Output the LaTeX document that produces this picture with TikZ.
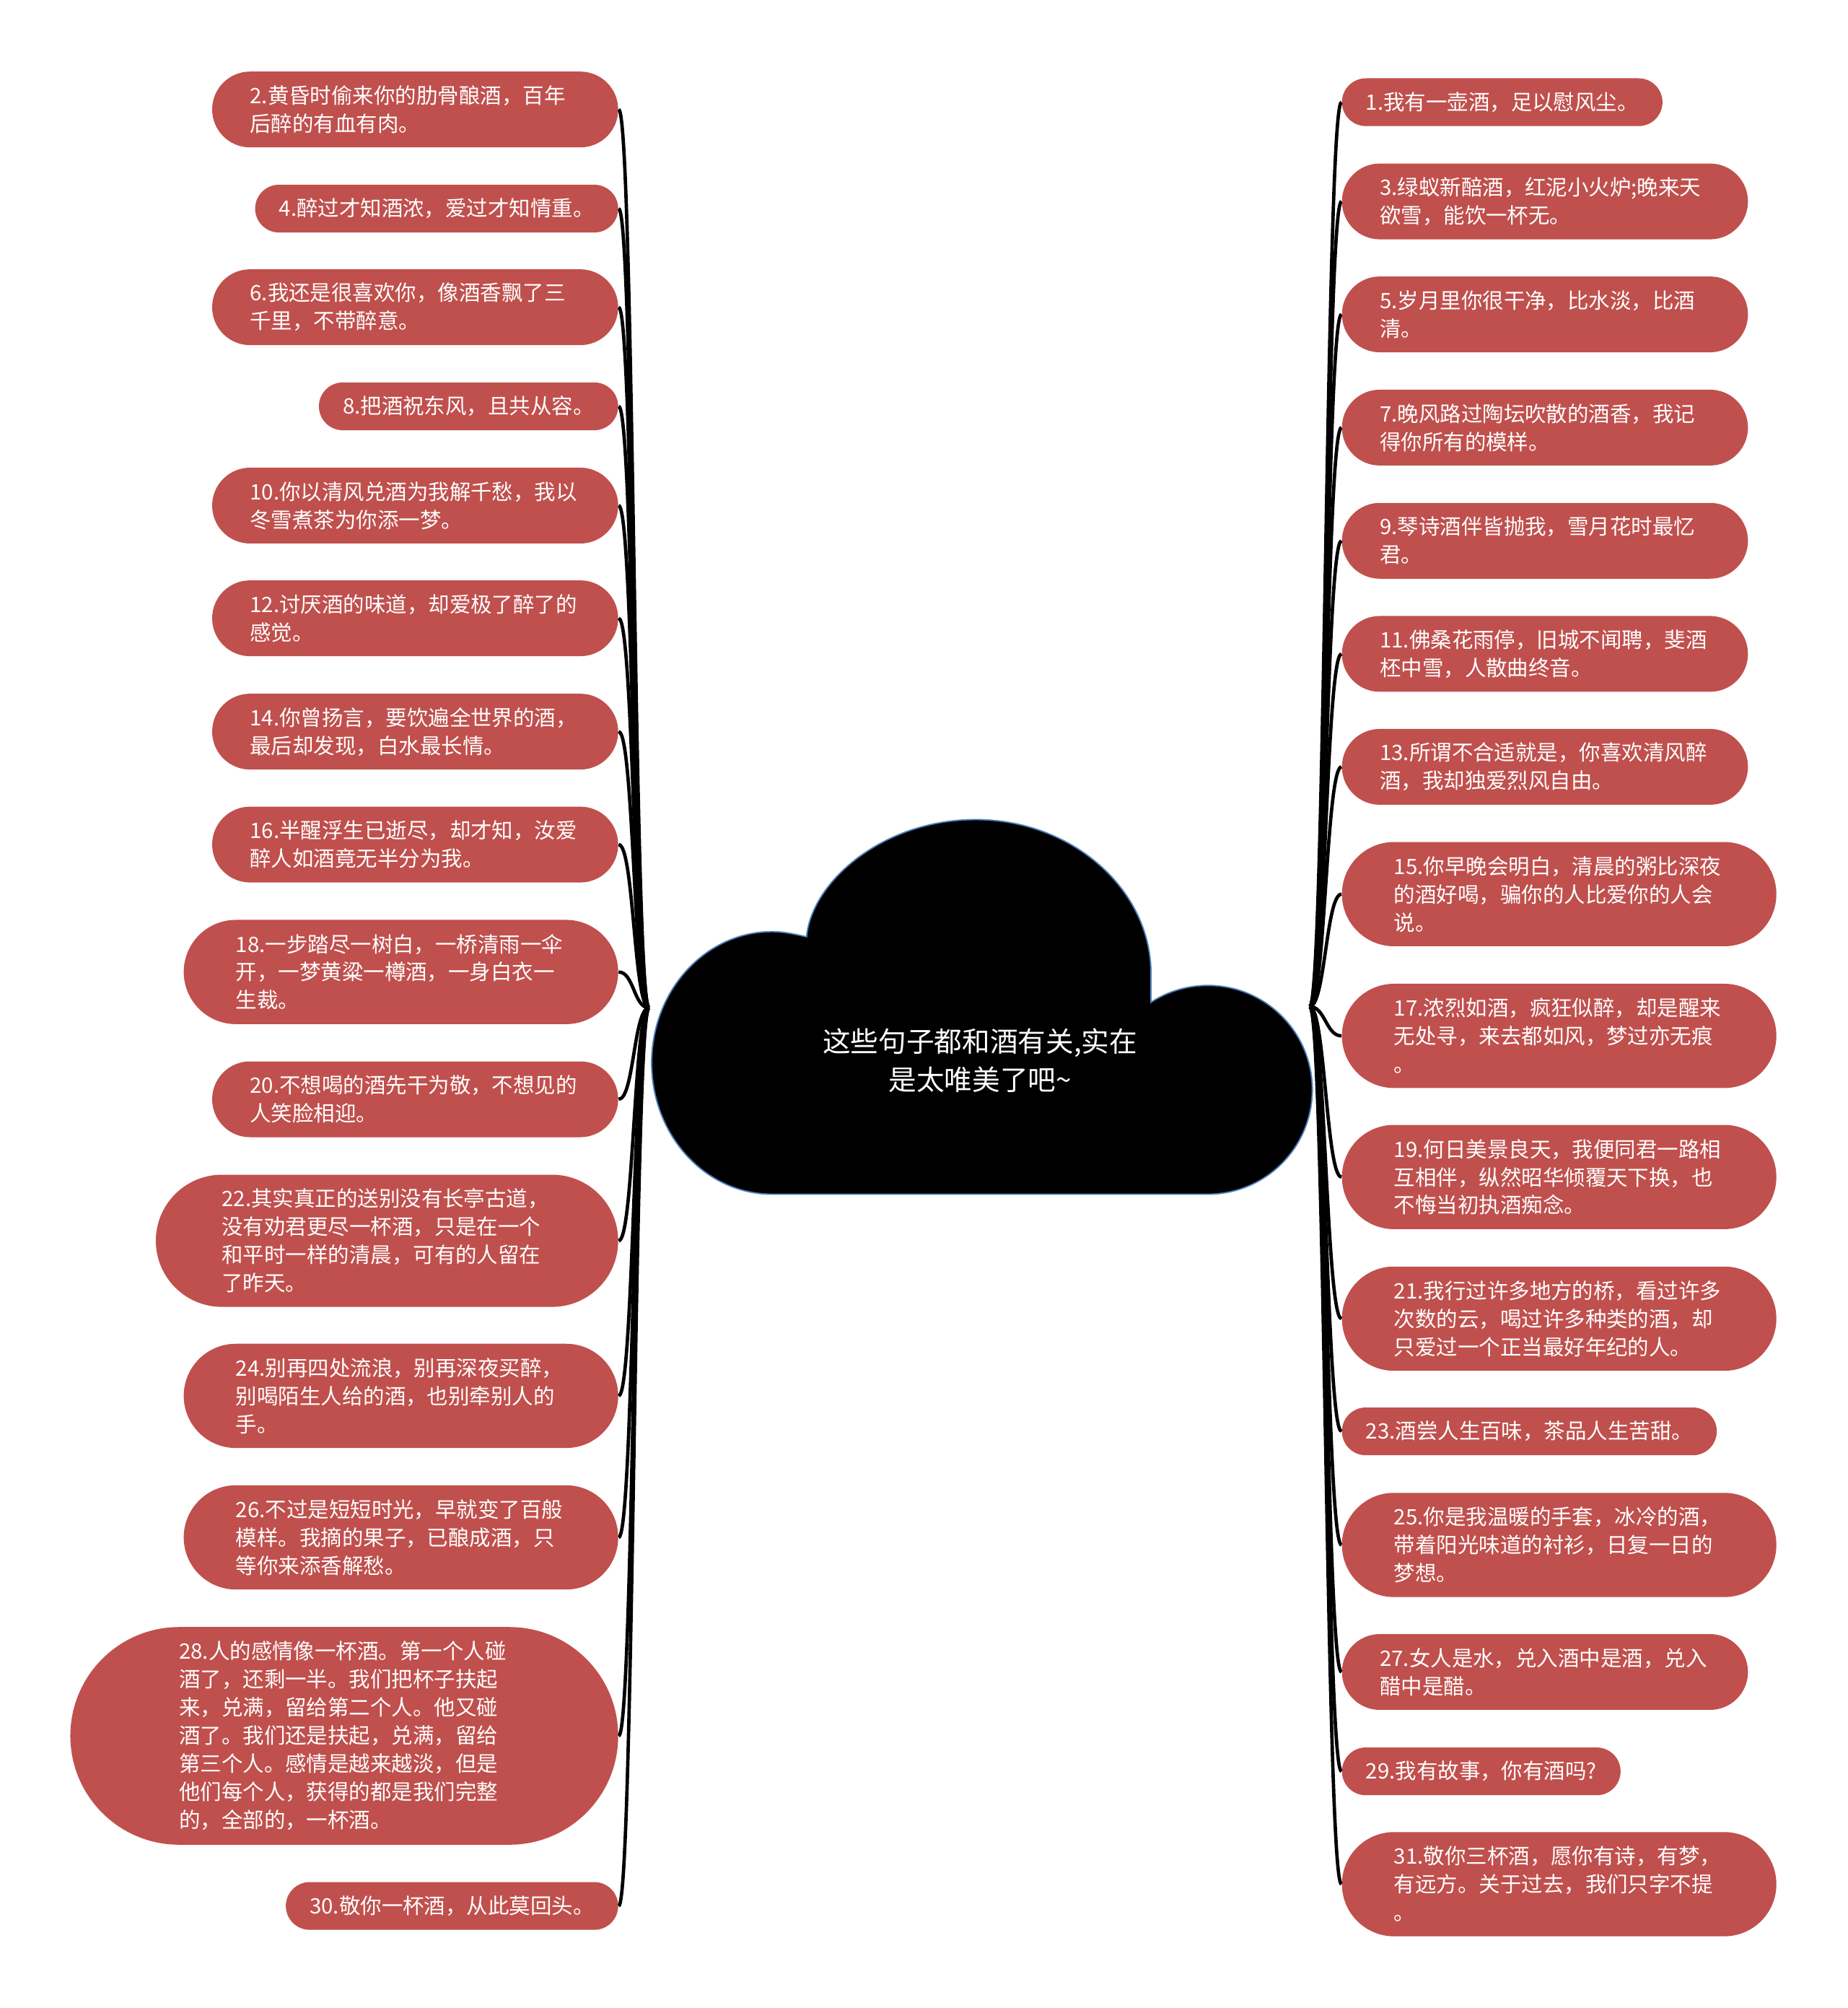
\documentclass[tikz,border=0pt]{standalone}
\usepackage{fontspec}
\newfontfamily\cjk{Noto Sans CJK SC}

\definecolor{quotered}{RGB}{192,80,77}
\definecolor{cloudline}{RGB}{79,129,189}

\begin{document}
\begin{tikzpicture}[x=0.02cm, y=-0.02cm,
        quote/.style={fill=quotered, text=white, align=left, inner ysep=0pt,
            font=\cjk\fontsize{9.45}{12.5}\selectfont},
        box1/.style={quote, minimum height=0.746cm, inner xsep=0.373cm, rounded corners=0.373cm},
        box2/.style={quote, text width=5.16cm, minimum height=1.184cm, inner xsep=0.592cm, rounded corners=0.592cm},
        box3/.style={quote, text width=5.16cm, minimum height=1.628cm, inner xsep=0.814cm, rounded corners=0.814cm},
        box4/.style={quote, text width=5.16cm, minimum height=2.064cm, inner xsep=1.032cm, rounded corners=1.032cm},
        box7/.style={quote, text width=5.16cm, minimum height=3.40cm, inner xsep=1.70cm, rounded corners=1.70cm},
        link/.style={line width=1.5pt}]

        \useasboundingbox (0,0) rectangle (1443,1568);

        % Centre: cloud
        \draw[fill=black, draw=cloudline, line width=0.6pt]
            (603,932.5) .. controls (551,932.5) and (509,886.6) .. (509,830)
            .. controls (509,773.4) and (551,727.5) .. (603,727.5)
            .. controls (612,727.5) and (621,729.5) .. (630,731.5)
            .. controls (634,688) and (690,640) .. (762,640)
            .. controls (838,640) and (899,695) .. (899,760)
            -- (899,782.6)
            .. controls (912.4,774) and (927.7,769.5) .. (943.5,769.5)
            .. controls (988.5,769.5) and (1025,806) .. (1025,851)
            .. controls (1025,896) and (988.5,932.5) .. (943.5,932.5)
            -- cycle;

        \node[text=white, align=center, font=\cjk\fontsize{12.4}{17.1}\selectfont] (root) at (765.5,828)
            {这些句子都和酒有关,实在\\是太唯美了吧\textasciitilde};

        \coordinate (jl) at (507,787);
        \coordinate (jr) at (1023,786);

        % Left: even quotes
        \node[box2, anchor=east] (q2) at (483.2,85.5) {2.黄昏时偷来你的肋骨酿酒，百年\\后醉的有血有肉。};
        \node[box1, anchor=east] (q4) at (483.2,162.9) {4.醉过才知酒浓，爱过才知情重。};
        \node[box2, anchor=east] (q6) at (483.2,239.9) {6.我还是很喜欢你，像酒香飘了三\\千里，不带醉意。};
        \node[box1, anchor=east] (q8) at (483.2,317.3) {8.把酒祝东风，且共从容。};
        \node[box2, anchor=east] (q10) at (483.2,394.8) {10.你以清风兑酒为我解千愁，我以\\冬雪煮茶为你添一梦。};
        \node[box2, anchor=east] (q12) at (483.2,482.8) {12.讨厌酒的味道，却爱极了醉了的\\感觉。};
        \node[box2, anchor=east] (q14) at (483.2,571.3) {14.你曾扬言，要饮遍全世界的酒，\\最后却发现，白水最长情。};
        \node[box2, anchor=east] (q16) at (483.2,659.5) {16.半醒浮生已逝尽，却才知，汝爱\\醉人如酒竟无半分为我。};
        \node[box3, anchor=east] (q18) at (483.2,759) {18.一步踏尽一树白，一桥清雨一伞\\开，一梦黄粱一樽酒，一身白衣一\\生裁。};
        \node[box2, anchor=east] (q20) at (483.2,858.4) {20.不想喝的酒先干为敬，不想见的\\人笑脸相迎。};
        \node[box4, anchor=east] (q22) at (483.2,968.9) {22.其实真正的送别没有长亭古道，\\没有劝君更尽一杯酒，只是在一个\\和平时一样的清晨，可有的人留在\\了昨天。};
        \node[box3, anchor=east] (q24) at (483.2,1090) {24.别再四处流浪，别再深夜买醉，\\别喝陌生人给的酒，也别牵别人的\\手。};
        \node[box3, anchor=east] (q26) at (483.2,1200.5) {26.不过是短短时光，早就变了百般\\模样。我摘的果子，已酿成酒，只\\等你来添香解愁。};
        \node[box7, anchor=east] (q28) at (483.2,1355.5) {28.人的感情像一杯酒。第一个人碰\\酒了，还剩一半。我们把杯子扶起\\来，兑满，留给第二个人。他又碰\\酒了。我们还是扶起，兑满，留给\\第三个人。感情是越来越淡，但是\\他们每个人，获得的都是我们完整\\的，全部的，一杯酒。};
        \node[box1, anchor=east] (q30) at (483.2,1488.3) {30.敬你一杯酒，从此莫回头。};

        % Right: odd quotes
        \node[box1, anchor=west] (q1) at (1047.8,79.8) {1.我有一壶酒，足以慰风尘。};
        \node[box2, anchor=west] (q3) at (1047.8,157.3) {3.绿蚁新醅酒，红泥小火炉;晚来天\\欲雪，能饮一杯无。};
        \node[box2, anchor=west] (q5) at (1047.8,245.5) {5.岁月里你很干净，比水淡，比酒\\清。};
        \node[box2, anchor=west] (q7) at (1047.8,333.9) {7.晚风路过陶坛吹散的酒香，我记\\得你所有的模样。};
        \node[box2, anchor=west] (q9) at (1047.8,422.3) {9.琴诗酒伴皆抛我，雪月花时最忆\\君。};
        \node[box2, anchor=west] (q11) at (1047.8,510.6) {11.佛桑花雨停，旧城不闻聘，斐酒\\柸中雪，人散曲终音。};
        \node[box2, anchor=west] (q13) at (1047.8,598.8) {13.所谓不合适就是，你喜欢清风醉\\酒，我却独爱烈风自由。};
        \node[box3, anchor=west] (q15) at (1047.8,698.2) {15.你早晚会明白，清晨的粥比深夜\\的酒好喝，骗你的人比爱你的人会\\说。};
        \node[box3, anchor=west] (q17) at (1047.8,808.9) {17.浓烈如酒，疯狂似醉，却是醒来\\无处寻，来去都如风，梦过亦无痕\\。};
        \node[box3, anchor=west] (q19) at (1047.8,919.1) {19.何日美景良天，我便同君一路相\\互相伴，纵然昭华倾覆天下换，也\\不悔当初执酒痴念。};
        \node[box3, anchor=west] (q21) at (1047.8,1029.7) {21.我行过许多地方的桥，看过许多\\次数的云，喝过许多种类的酒，却\\只爱过一个正当最好年纪的人。};
        \node[box1, anchor=west] (q23) at (1047.8,1117.7) {23.酒尝人生百味，茶品人生苦甜。};
        \node[box3, anchor=west] (q25) at (1047.8,1206.4) {25.你是我温暖的手套，冰冷的酒，\\带着阳光味道的衬衫，日复一日的\\梦想。};
        \node[box2, anchor=west] (q27) at (1047.8,1305.6) {27.女人是水，兑入酒中是酒，兑入\\醋中是醋。};
        \node[box1, anchor=west] (q29) at (1047.8,1383.2) {29.我有故事，你有酒吗?};
        \node[box3, anchor=west] (q31) at (1047.8,1471.3) {31.敬你三杯酒，愿你有诗，有梦，\\有远方。关于过去，我们只字不提\\。};

        % Connectors
        \foreach \n in {2,4,...,30} {
            \draw[link] (jl) .. controls +(-12,0) and +(12,0) .. (q\n.east);
        }
        \foreach \n in {1,3,...,31} {
            \draw[link] (jr) .. controls +(12,0) and +(-12,0) .. (q\n.west);
        }

    \end{tikzpicture}
\end{document}
